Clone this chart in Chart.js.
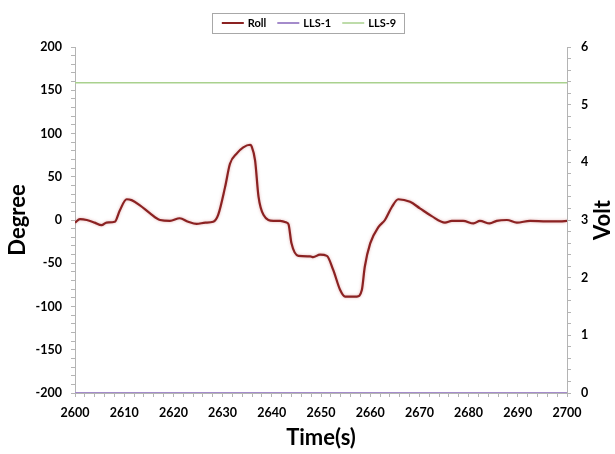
<!DOCTYPE html>
<html>
<head>
<meta charset="utf-8">
<script src="https://cdn.jsdelivr.net/npm/chart.js@4/dist/chart.umd.min.js"></script>
<style>
  html, body { margin:0; padding:0; background:#fff; }
  #wrap { width:615px; height:454px; position:relative; }
</style>
</head>
<body>
<div id="wrap"><canvas id="c" width="615" height="454"></canvas></div>
<script>
// roll angle trace (deg) against time (s)
const timeSec = [2600, 2601, 2602.4, 2604, 2605.4, 2606.4, 2608.1, 2609.1, 2610.5, 2611.5,
  2613.2, 2615.2, 2617.3, 2619.3, 2621.3, 2623, 2624.7, 2626.5, 2628.1, 2629.1,
  2630.5, 2631.5, 2632.9, 2634.2, 2635.6, 2635.9, 2636.6, 2637.3, 2638.3, 2640.3,
  2641.7, 2643, 2643.4, 2644, 2645.4, 2647.8, 2648.4, 2649.8, 2651.2, 2652.5,
  2653.9, 2654.9, 2657.3, 2658.3, 2658.9, 2660, 2661.7, 2663, 2664.4, 2665.7,
  2668.1, 2670.1, 2672.5, 2675.2, 2676.6, 2678.9, 2681, 2682.3, 2684.3, 2685.7,
  2687.8, 2689.8, 2692.5, 2695.9, 2698.6, 2700];
const rollDeg = [-3, 1, 0, -3, -6, -3, -2, 11, 24, 23,
  17, 8, 0, -1, 2, -2, -4.5, -3, -2, 6,
  38, 65, 77, 84, 87, 85, 69, 27, 6, -1,
  -1, -3, -5, -27, -41.5, -42, -43, -40, -41.5, -58,
  -81, -88.5, -88.5, -81, -54, -27, -8, 0, 15, 24,
  21, 13.5, 4.5, -3, -1, -1, -4, -1, -4, -1,
  0, -3, -1, -1.5, -1.5, -1];

// level switch voltages (V)
const llsTime = [2600, 2700];
const lls1Volt = [0, 0];
const lls9Volt = [5.38, 5.38];

const xTicks = [2600, 2610, 2620, 2630, 2640, 2650, 2660, 2670, 2680, 2690, 2700];
const degTicks = [-200, -150, -100, -50, 0, 50, 100, 150, 200];
const voltTicks = [0, 1, 2, 3, 4, 5, 6];

const FONT = 'Lato, "Open Sans", "DejaVu Sans", sans-serif';
const AXIS_GRAY = '#b4b4b4';

function pts(xs, ys){ return xs.map((x, i) => ({ x: x, y: ys[i] })); }
function onList(list, v){ return list.some(t => Math.abs(t - v) < 1e-6); }

// legend in a thin bordered box above the plot
const boxLegend = {
  id: 'boxLegend',
  afterDraw(chart){
    const ctx = chart.ctx;
    const sets = chart.data.datasets;
    ctx.save();
    ctx.font = 'bold 11px ' + FONT;
    const lineW = 22, gap = 4, sep = 11;
    const widths = sets.map(d => ctx.measureText(d.label).width);
    const total = widths.reduce((a, w) => a + lineW + gap + w, 0) + sep * (sets.length - 1);
    const cx = 309, cy = 23;
    let x = cx - total / 2;
    ctx.strokeStyle = '#a8a8a8';
    ctx.lineWidth = 1;
    ctx.strokeRect(Math.round(x - 10) + 0.5, 13.5, Math.round(total + 18), 20);
    ctx.textBaseline = 'middle';
    ctx.fillStyle = '#000';
    sets.forEach((d, i) => {
      ctx.strokeStyle = d.borderColor;
      ctx.lineWidth = Math.min(d.borderWidth, 2);
      ctx.beginPath();
      ctx.moveTo(x, cy);
      ctx.lineTo(x + lineW, cy);
      ctx.stroke();
      ctx.fillText(d.label, x + lineW + gap, cy + 0.5);
      x += lineW + gap + widths[i] + sep;
    });
    ctx.restore();
  }
};

// right axis title reads bottom-to-top, same as the left one
const voltTitle = {
  id: 'voltTitle',
  afterDraw(chart){
    const ctx = chart.ctx;
    ctx.save();
    ctx.translate(603, chart.chartArea.top + (chart.chartArea.bottom - chart.chartArea.top) / 2);
    ctx.rotate(-Math.PI / 2);
    ctx.font = 'bold 22px ' + FONT;
    ctx.fillStyle = '#000';
    ctx.textAlign = 'center';
    ctx.textBaseline = 'middle';
    ctx.fillText('Volt', 0, 0);
    ctx.restore();
  }
};

// soft halo under the roll trace
const rollGlow = {
  id: 'rollGlow',
  beforeDatasetDraw(chart, args){
    if (args.index !== 0) return;
    const ctx = chart.ctx;
    ctx.save();
    ctx.shadowColor = 'rgba(200,110,110,0.55)';
    ctx.shadowBlur = 3;
  },
  afterDatasetDraw(chart, args){
    if (args.index !== 0) return;
    chart.ctx.restore();
  }
};

const tickFont = { family: FONT, size: 12.5, weight: 'bold' };
const titleFont = { family: FONT, size: 22, weight: 'bold' };

new Chart(document.getElementById('c'), {
  type: 'line',
  data: {
    datasets: [
      { label: 'Roll', data: pts(timeSec, rollDeg), yAxisID: 'y', borderColor: '#8b2222',
        borderWidth: 2.2, pointRadius: 0, cubicInterpolationMode: 'monotone' },
      { label: 'LLS-1', data: pts(llsTime, lls1Volt), yAxisID: 'y1', borderColor: '#a48bcb',
        borderWidth: 2, pointRadius: 0 },
      { label: 'LLS-9', data: pts(llsTime, lls9Volt), yAxisID: 'y1', borderColor: '#a9d18e',
        borderWidth: 1.5, pointRadius: 0 }
    ]
  },
  options: {
    responsive: false,
    animation: false,
    layout: { padding: { top: 47, left: 0, right: 0, bottom: 0 } },
    plugins: { legend: { display: false }, tooltip: { enabled: false } },
    scales: {
      x: {
        type: 'linear', min: 2600, max: 2700,
        grid: { drawOnChartArea: false, drawTicks: true, tickLength: 4, color: AXIS_GRAY },
        border: { color: AXIS_GRAY },
        ticks: { stepSize: 2, autoSkip: false, maxRotation: 0, padding: 8, color: '#000', font: tickFont,
          callback: v => onList(xTicks, v) ? String(v) : '' },
        title: { display: true, text: 'Time(s)', color: '#000', font: titleFont, padding: { top: 0, bottom: 3 } },
        afterFit(s){ s.height = 61; }
      },
      y: {
        position: 'left', min: -200, max: 200,
        grid: { drawOnChartArea: false, drawTicks: true, tickLength: 4, color: AXIS_GRAY },
        border: { color: AXIS_GRAY },
        ticks: { stepSize: 10, autoSkip: false, padding: 9, color: '#000', font: tickFont,
          callback: v => onList(degTicks, v) ? String(v) : '' },
        title: { display: true, text: 'Degree', color: '#000', font: titleFont, padding: { top: 5, bottom: 0 } },
        afterFit(s){ s.width = 75; }
      },
      y1: {
        position: 'right', min: 0, max: 6,
        grid: { drawOnChartArea: false, drawTicks: true, tickLength: 4, color: AXIS_GRAY },
        border: { color: AXIS_GRAY },
        ticks: { stepSize: 0.2, autoSkip: false, padding: 10, color: '#000', font: tickFont,
          callback: v => onList(voltTicks, v) ? String(Math.round(v)) : '' },
        afterFit(s){ s.width = 48; }
      }
    }
  },
  plugins: [rollGlow, boxLegend, voltTitle]
});
</script>
</body>
</html>
